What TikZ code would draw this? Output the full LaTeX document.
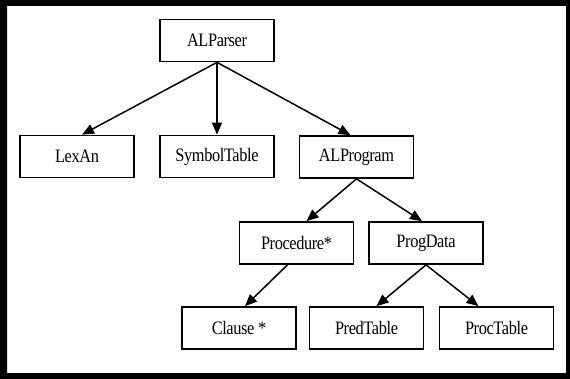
\documentclass[tikz,border=0pt]{standalone}
\usepackage{fontspec}
\setmainfont{Liberation Serif}[FakeStretch=0.86,LetterSpace=-2]
\usetikzlibrary{arrows.meta}
\begin{document}
\begin{tikzpicture}[x=1pt,y=-1pt,
  box/.style={draw,line width=1.7pt,minimum width=114pt,minimum height=42pt,inner sep=0pt,
    font=\fontsize{19}{21}\selectfont},
  edge/.style={line width=1.5pt,-{Triangle[length=12pt,width=10pt]}}]
\useasboundingbox (0,0) rectangle (570,379);
\fill[black,even odd rule] (0,0) rectangle (570,379) (7,6) rectangle (566,373);
\node[box] (alparser) at (217,40.5) {ALParser};
\node[box] (lexan) at (77,156.5) {LexAn};
\node[box] (symtab) at (217,156.5) {SymbolTable};
\node[box] (alprog) at (356.5,157) {ALProgram};
\node[box] (proc) at (296.5,243) {Procedure*};
\node[box] (progdata) at (426,243) {ProgData};
\node[box] (clause) at (239,328) {Clause *};
\node[box] (predtab) at (366.5,328) {PredTable};
\node[box] (proctab) at (496.5,328) {ProcTable};
\draw[edge] (alparser.south) -- ([xshift=5pt]lexan.north);
\draw[edge] (alparser.south) -- (symtab.north);
\draw[edge] (alparser.south) -- ([xshift=-6pt]alprog.north);
\draw[edge] (alprog.south) -- ([xshift=10pt]proc.north);
\draw[edge] (alprog.south) -- ([xshift=-4pt]progdata.north);
\draw[edge] ([xshift=-9pt]proc.south) -- ([xshift=6pt]clause.north);
\draw[edge] (progdata.south) -- ([xshift=10pt]predtab.north);
\draw[edge] (progdata.south) -- ([xshift=-18pt]proctab.north);
\end{tikzpicture}
\end{document}
